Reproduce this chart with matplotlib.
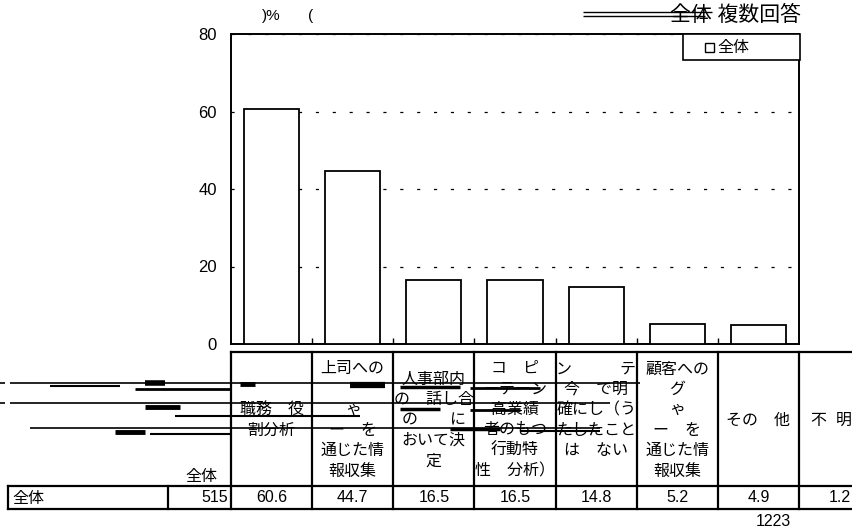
import matplotlib
matplotlib.use("Agg")
import matplotlib.pyplot as plt
import matplotlib.transforms as mtransforms
from matplotlib.patches import Rectangle

plt.rcParams["font.family"] = ["Liberation Sans", "Noto Sans CJK JP"]

# data
categories = [
    ["　", "職務　役", "割分析", "　"],
    ["上司への", "　", "ゃ", "ー　を", "通じた情", "報収集"],
    ["人事部内", "の　話し合", "の　　に", "おいて決", "定"],
    ["コ　ピ", "ーテーン", "高業績", "者のもつ", "行動特", "性　分析）"],
    ["ン　　　テ", "今　で明", "確にし（う", "たしたこと", "は　ない", "　"],
    ["顧客への", "グ", "ゃ", "ー　を", "通じた情", "報収集"],
    ["その　他"],
    ["不  明"],
]
table_values = ["60.6", "44.7", "16.5", "16.5", "14.8", "5.2", "4.9", "1.2"]
bar_values = [60.6, 44.7, 16.5, 16.5, 14.8, 5.2, 4.9]
row_label = "全体"
row_n = "515"
legend_label = "全体"
title = "全体 複数回答"
page_no = "1223"

W, H = 853, 531
fig = plt.figure(figsize=(W / 100, H / 100), dpi=100)

# plot area in pixels: x 231..799, y 34..344
ax = fig.add_axes([231 / W, 1 - 344 / H, 568 / W, 310 / H])
x = list(range(len(bar_values)))
bars = ax.bar(x, bar_values, width=0.68, facecolor="white",
              edgecolor="black", linewidth=1.3, zorder=3)
ax.set_xlim(-0.5, len(bar_values) - 0.5)
ax.set_ylim(0, 80)
ax.set_yticks([0, 20, 40, 60, 80])
ax.tick_params(axis="y", length=0, pad=10, labelsize=12)
ax.set_xticks([i + 0.5 for i in range(len(bar_values) - 1)])
ax.set_xticklabels([])
ax.tick_params(axis="x", direction="in", length=4, width=1)
ax.yaxis.grid(True, color="black", linestyle=(0, (2.5, 11)), linewidth=0.9)
ax.set_axisbelow(True)
for s in ax.spines.values():
    s.set_linewidth(1.4)

# overlay in pixel coordinates for table and labels
ov = fig.add_axes([0, 0, 1, 1], zorder=5)
ov.set_xlim(0, W)
ov.set_ylim(H, 0)
ov.axis("off")
ov.patch.set_alpha(0)
tr = mtransforms.blended_transform_factory(ax.transData, ov.transData)

lw = 1.6
n_cols = len(table_values)
bounds = [i - 0.5 for i in range(n_cols + 1)]
# header row
ov.plot([bounds[0], bounds[-1]], [352, 352], color="black", lw=lw, transform=tr, clip_on=False)
for b in bounds:
    ov.plot([b, b], [352, 509], color="black", lw=lw, transform=tr, clip_on=False)
# data row
ov.plot([8, W], [486, 486], color="black", lw=lw)
ov.plot([8, W], [509, 509], color="black", lw=lw)
ov.plot([8, 8], [486, 509], color="black", lw=lw)
ov.plot([168, 168], [486, 509], color="black", lw=lw)

# last column is cut by the page edge: shift its text onto the visible part
col_x = list(range(n_cols))
col_x[-1] = n_cols - 1.1

for i, lines in enumerate(categories):
    ov.text(col_x[i], 420, "\n".join(lines), transform=tr, ha="center", va="center",
            multialignment="center", fontsize=11.5, linespacing=1.45)
for i, v in enumerate(table_values):
    ov.text(i, 498, v, transform=tr, ha="center", va="center", fontsize=11.5)

ov.text(217, 476, row_label, ha="right", va="center", fontsize=11.5)
ov.text(12, 498, row_label, ha="left", va="center", fontsize=11.5)
ov.text(228, 498, row_n, ha="right", va="center", fontsize=11.5)
ov.text(773, 521, page_no, ha="center", va="center", fontsize=11.5)

# title and unit
ov.text(801, 15, title, ha="right", va="center", fontsize=15)
ov.text(262, 16, ")%", ha="left", va="center", fontsize=11)
ov.text(308, 16, "(", ha="left", va="center", fontsize=11)

# legend box
ov.add_patch(Rectangle((683, 34), 117, 26, facecolor="white", edgecolor="black", lw=1.2))
ov.add_patch(Rectangle((705, 43), 9, 9, facecolor="white", edgecolor="black", lw=1.0))
ov.text(717, 47.5, legend_label, ha="left", va="center", fontsize=11.5)

# rendering artefacts of the original (stray strokes)
strokes = [
    (0, 5, 383, 1.2), (10, 640, 383, 1.2), (50, 120, 386, 1.5),
    (145, 165, 383, 4.0), (135, 230, 389, 2.0), (240, 255, 384, 3.5),
    (350, 385, 385, 4.5), (400, 460, 387, 2.5), (470, 540, 388, 2.0),
    (0, 5, 403, 1.2), (10, 610, 403, 1.2), (145, 180, 407, 3.5),
    (175, 360, 416, 1.5), (400, 440, 409, 2.5), (470, 520, 410, 2.0),
    (30, 600, 428, 1.2), (115, 145, 432, 3.5), (150, 230, 434, 1.5),
    (450, 500, 429, 2.5), (520, 600, 431, 1.5),
    (583, 712, 12, 1.0), (583, 705, 16, 1.0),
]
for x0, x1, y, w in strokes:
    ov.plot([x0, x1], [y, y], color="black", lw=w, solid_capstyle="butt")

fig.savefig("out.png", dpi=100)
